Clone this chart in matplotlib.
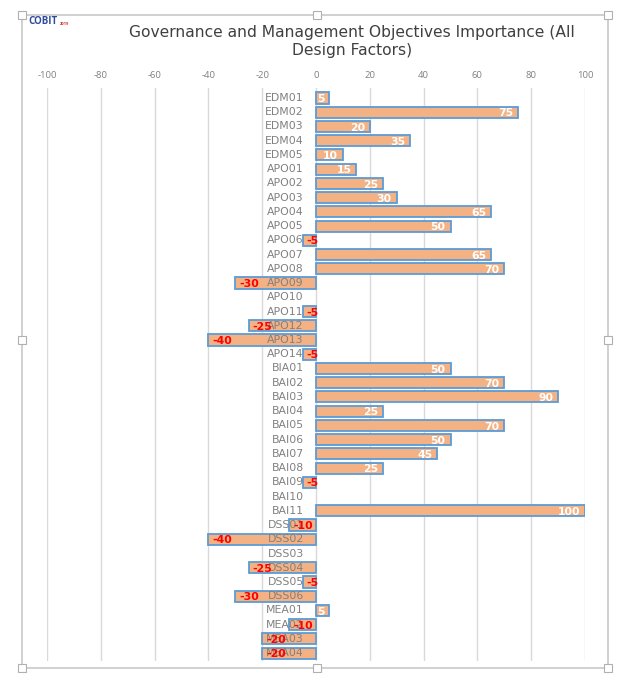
import matplotlib.pyplot as plt
from matplotlib.patches import Rectangle

# objectives and importance values
objectives = ['EDM01', 'EDM02', 'EDM03', 'EDM04', 'EDM05',
              'APO01', 'APO02', 'APO03', 'APO04', 'APO05', 'APO06', 'APO07',
              'APO08', 'APO09', 'APO10', 'APO11', 'APO12', 'APO13', 'APO14',
              'BIA01', 'BAI02', 'BAI03', 'BAI04', 'BAI05', 'BAI06', 'BAI07',
              'BAI08', 'BAI09', 'BAI10', 'BAI11',
              'DSS01', 'DSS02', 'DSS03', 'DSS04', 'DSS05', 'DSS06',
              'MEA01', 'MEA02', 'MEA03', 'MEA04']
importance = [5, 75, 20, 35, 10,
              15, 25, 30, 65, 50, -5, 65,
              70, -30, 0, -5, -25, -40, -5,
              50, 70, 90, 25, 70, 50, 45,
              25, -5, 0, 100,
              -10, -40, 0, -25, -5, -30,
              5, -10, -20, -20]
xticks = list(range(-100, 101, 20))

fill_col = '#F4B183'
edge_col = '#5B9BD5'
grid_col = '#D9D9D9'
label_col = '#808080'
font = 'DejaVu Sans'

fig = plt.figure(figsize=(6.19, 6.75), dpi=100)

# chart frame with selection handles
fig.patches.append(Rectangle((22 / 619, 1 - 668 / 675), 586 / 619, 653 / 675,
                             transform=fig.transFigure, fill=False,
                             edgecolor='#C8C8C8', linewidth=1.2))
for hx, hy in [(22, 15), (317, 15), (608, 15), (22, 340), (608, 340),
               (22, 668), (317, 668), (608, 668)]:
    fig.patches.append(Rectangle(((hx - 4) / 619, 1 - (hy + 4) / 675), 8 / 619, 8 / 675,
                                 transform=fig.transFigure, facecolor='white',
                                 edgecolor='#B0B0B0', linewidth=0.8))

ax = fig.add_axes([47 / 619, 1 - 661 / 675, 538 / 619, 573 / 675])
n = len(objectives)
ypos = list(range(n))
widths = [1.3 if v != 0 else 0 for v in importance]
ax.barh(ypos, importance, height=0.78, color=fill_col, edgecolor=edge_col,
        linewidth=widths, zorder=2)

for y, name, v in zip(ypos, objectives, importance):
    ax.text(-4.5, y, name, ha='right', va='center', fontsize=7.8,
            color=label_col, family=font, zorder=4)
    if v > 0:
        ax.text(v - 1.8, y + 0.08, str(v), ha='right', va='center', fontsize=7.8,
                color='white', fontweight='bold', family=font, zorder=5)
    elif v < 0:
        ax.text(v + 1.5, y + 0.08, str(v), ha='left', va='center', fontsize=7.8,
                color='red', fontweight='bold', family=font, zorder=5)

ax.set_xlim(-100, 100)
ax.set_ylim(n - 0.45, -0.7)
ax.set_xticks(xticks)
ax.set_xticklabels([str(t) for t in xticks], fontsize=6.8, color=label_col, family='Open Sans')
ax.xaxis.tick_top()
ax.tick_params(axis='x', length=0, pad=6)
ax.set_yticks([])
ax.grid(axis='x', color=grid_col, linewidth=1, zorder=0)
for s in ax.spines.values():
    s.set_visible(False)

fig.text(0.568, 1 - 41 / 675, 'Governance and Management Objectives Importance (All\nDesign Factors)',
         ha='center', va='center', fontsize=11.2, color='#404040', family=font,
         linespacing=1.25)
fig.text(28 / 619, 1 - 22 / 675, 'COBIT', ha='left', va='center', fontsize=7,
         color='#2F4C9A', fontweight='bold', family='Open Sans')
fig.text(60 / 619, 1 - 24 / 675, '2019', ha='left', va='center', fontsize=3,
         color='#D0312D', fontweight='bold', family='Open Sans')

fig.savefig('out.png', dpi=100)
